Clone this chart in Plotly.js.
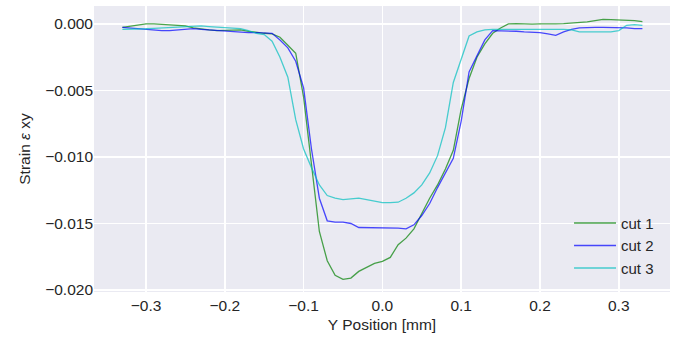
<!DOCTYPE html>
<html>
<head>
<meta charset="utf-8">
<script src="https://cdn.plot.ly/plotly-3.0.1.min.js"></script>
<style>html,body{margin:0;padding:0;background:#fff;}#chart{width:678px;height:339px;}</style>
</head>
<body>
<div id="chart"></div>
<script>
const yPos = [-0.33,-0.32,-0.31,-0.30,-0.29,-0.28,-0.27,-0.26,-0.25,-0.24,-0.23,-0.22,-0.21,-0.20,-0.19,-0.18,-0.17,-0.16,-0.15,-0.14,-0.13,-0.12,-0.11,-0.10,-0.09,-0.08,-0.07,-0.06,-0.05,-0.04,-0.03,-0.02,-0.01,0.00,0.01,0.02,0.03,0.04,0.05,0.06,0.07,0.08,0.09,0.10,0.11,0.12,0.13,0.14,0.15,0.16,0.17,0.18,0.19,0.20,0.21,0.22,0.23,0.24,0.25,0.26,0.27,0.28,0.29,0.30,0.31,0.32,0.33];

const cut1 = [-0.00025,-0.00015,-0.00005,0.00000,0.00000,-0.00005,-0.00010,-0.00012,-0.00015,-0.00030,-0.00040,-0.00045,-0.00050,-0.00050,-0.00045,-0.00045,-0.00055,-0.00065,-0.00070,-0.00075,-0.00100,-0.00160,-0.00220,-0.00550,-0.01050,-0.01560,-0.01780,-0.01890,-0.01920,-0.01910,-0.01860,-0.01830,-0.01800,-0.01785,-0.01755,-0.01660,-0.01610,-0.01540,-0.01420,-0.01310,-0.01210,-0.01090,-0.00950,-0.00640,-0.00410,-0.00250,-0.00150,-0.00070,-0.00030,0.00000,0.00003,0.00000,-0.00002,0.00000,-0.00002,0.00000,0.00002,0.00005,0.00010,0.00015,0.00025,0.00035,0.00033,0.00030,0.00030,0.00025,0.00017];

const cut2 = [-0.00025,-0.00030,-0.00040,-0.00045,-0.00050,-0.00050,-0.00050,-0.00045,-0.00040,-0.00035,-0.00040,-0.00045,-0.00050,-0.00050,-0.00055,-0.00060,-0.00065,-0.00065,-0.00070,-0.00070,-0.00120,-0.00180,-0.00280,-0.00480,-0.00940,-0.01310,-0.01480,-0.01490,-0.01490,-0.01500,-0.01530,-0.01530,-0.01535,-0.01530,-0.01535,-0.01535,-0.01540,-0.01510,-0.01440,-0.01350,-0.01230,-0.01120,-0.01010,-0.00730,-0.00360,-0.00240,-0.00120,-0.00050,-0.00050,-0.00050,-0.00055,-0.00060,-0.00060,-0.00065,-0.00075,-0.00085,-0.00060,-0.00040,-0.00030,-0.00025,-0.00025,-0.00025,-0.00025,-0.00030,-0.00030,-0.00035,-0.00035];

const cut3 = [-0.00040,-0.00040,-0.00038,-0.00036,-0.00033,-0.00030,-0.00027,-0.00022,-0.00020,-0.00014,-0.00015,-0.00020,-0.00025,-0.00030,-0.00033,-0.00035,-0.00050,-0.00070,-0.00080,-0.00130,-0.00250,-0.00400,-0.00720,-0.00940,-0.01080,-0.01210,-0.01290,-0.01310,-0.01320,-0.01315,-0.01310,-0.01320,-0.01330,-0.01343,-0.01343,-0.01340,-0.01310,-0.01270,-0.01210,-0.01120,-0.00990,-0.00780,-0.00440,-0.00260,-0.00090,-0.00060,-0.00045,-0.00040,-0.00040,-0.00040,-0.00038,-0.00038,-0.00038,-0.00038,-0.00038,-0.00038,-0.00040,-0.00045,-0.00060,-0.00060,-0.00060,-0.00060,-0.00060,-0.00050,-0.00010,-0.00005,-0.00010];

const seriesNames = ["cut 1","cut 2","cut 3"];
const seriesColors = ["rgba(0,128,0,0.7)","rgba(0,0,255,0.7)","rgba(0,191,191,0.7)"];
const seriesData = [cut1, cut2, cut3];
const xTicks = [-0.3,-0.2,-0.1,0.0,0.1,0.2,0.3];
const yTicks = [0.000,-0.005,-0.010,-0.015,-0.020];

const traces = seriesData.map((d,i)=>({
  x: yPos, y: d, type:'scatter', mode:'lines', name: seriesNames[i],
  legendgroup: 'g'+i,
  line:{color: seriesColors[i], width:1.3}
}));

const fam = '"Liberation Sans", Arial, sans-serif';
const layout = {
  width:678, height:339,
  margin:{l:94, r:8, t:6, b:47},
  paper_bgcolor:'#ffffff', plot_bgcolor:'#EAEAF2',
  font: {family:fam, size:15.5, color:'#262626'},
  showlegend:true,
  legend:{x:0.8247, y:0.298, xanchor:'left', yanchor:'top', bgcolor:'rgba(0,0,0,0)',
    font:{family:fam, size:15, color:'#262626'}, traceorder:'grouped', tracegroupgap:0, itemwidth:42},
  xaxis:{range:[-0.366,0.365], tickvals:xTicks, tickformat:'.1f', showgrid:true, gridcolor:'#ffffff', gridwidth:1.5,
    zeroline:false, showline:false, ticks:'', ticklen:0, ticklabelstandoff:2,
    title:{text:'Y Position [mm]', font:{size:15.5}, standoff:6}},
  yaxis:{range:[-0.02015,0.00135], tickvals:yTicks, tickformat:'.3f', showgrid:true, gridcolor:'#ffffff', gridwidth:1.5,
    zeroline:false, showline:false, ticks:'', ticklen:0,
    title:{text:'Strain <i>ε</i> xy', font:{size:15.5}, standoff:10}}
};
Plotly.newPlot('chart', traces, layout, {displayModeBar:false, staticPlot:true});
</script>
</body>
</html>
